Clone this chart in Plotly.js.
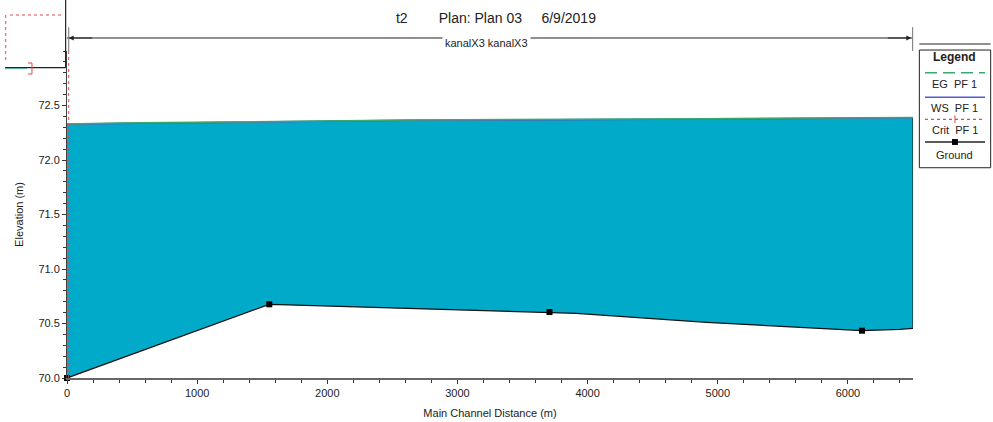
<!DOCTYPE html>
<html>
<head>
<meta charset="utf-8">
<script src="https://cdn.plot.ly/plotly-3.0.1.min.js"></script>
<style>html,body{margin:0;padding:0;background:#fff;}#chart{width:993px;height:422px;}</style>
</head>
<body>
<div id="chart"></div>
<script>
// ---- data ----
const groundX = [0, 1554, 1700, 3326, 3707, 3914, 4913, 5630, 5884, 6108, 6398, 6500];
const groundY = [70.0, 70.676, 70.670, 70.617, 70.605, 70.593, 70.511, 70.465, 70.447, 70.434, 70.447, 70.456];
const sectionX = [0, 1554, 3707, 6108];
const sectionY = [70.0, 70.676, 70.605, 70.434];
const wsX = [0, 389, 1167, 1918, 2634, 4908, 6500];
const wsY = [72.327, 72.336, 72.345, 72.358, 72.364, 72.376, 72.388];
const egY = [72.330, 72.339, 72.348, 72.361, 72.367, 72.379, 72.391];
const yTickVals = [70.0, 70.5, 71.0, 71.5, 72.0, 72.5];
const legendLabels = ['EG  PF 1', 'WS  PF 1', 'Crit  PF 1', 'Ground'];
const titleText = 't2\u00a0\u00a0\u00a0\u00a0\u00a0\u00a0\u00a0\u00a0Plan: Plan 03\u00a0\u00a0\u00a0\u00a0\u00a06/9/2019';
const reachLabel = 'kanalX3 kanalX3';

const FONT = 'Liberation Sans, Arial, sans-serif';
const WATER = '#00AAC8';
const EGC = '#3AAA6A';
const WSC = '#4F5BD0';
const CRITC = '#E8474A';

// water polygon: ground forward, WS backward
const polyX = groundX.concat(wsX.slice().reverse());
const polyY = groundY.concat(wsY.slice().reverse());
const lastG = groundX.length - 1, lastW = wsX.length - 1;

const traces = [
  {x: polyX, y: polyY, mode: 'lines', fill: 'toself', fillcolor: WATER, line: {width: 0}, hoverinfo: 'skip', showlegend: false},
  {x: [groundX[lastG], wsX[lastW]], y: [groundY[lastG], wsY[lastW]], mode: 'lines', line: {color: '#222', width: 1.2}, showlegend: false},
  {x: wsX, y: wsY, mode: 'lines', line: {color: WSC, width: 1.5}, name: 'WS PF 1', showlegend: false},
  {x: wsX, y: egY, mode: 'lines', line: {color: EGC, width: 1.5}, name: 'EG PF 1', showlegend: false},
  {x: groundX, y: groundY, mode: 'lines', line: {color: '#111', width: 1.3}, name: 'Ground', showlegend: false},
  {x: sectionX, y: sectionY, mode: 'markers', marker: {symbol: 'square', size: 6, color: '#000'}, showlegend: false, cliponaxis: false}
];

// legend geometry (paper coords)
const L = {x0: 1.0075, x1: 1.0918, y0: 0.643, y1: 1.003, div: 1.0214, lx0: 1.0142, lx1: 1.0851, cx: 1.0496};
const rowLineY = [0.9336, 0.8584, 0.7911, 0.7217];
const rowTextY = [0.8982, 0.8257, 0.7584, 0.682];
const rowStyle = [
  {color: EGC, dash: '12px,6px', width: 1.5},
  {color: WSC, dash: 'solid', width: 1.5},
  {color: CRITC, dash: '3px,3px', width: 1.2},
  {color: '#222', dash: 'solid', width: 1.3}
];

const shapes = [
  // left axis crit dashed overlay
  {type: 'line', xref: 'paper', yref: 'paper', x0: 0.002, x1: 0.002, y0: 0, y1: 1, line: {color: CRITC, width: 1, dash: '3px,3px'}},
  // reach arrow line and end ticks
  {type: 'line', xref: 'paper', yref: 'paper', x0: 0, x1: 1, y0: 1.0398, y1: 1.0398, line: {color: '#222', width: 1}},
  {type: 'line', xref: 'paper', yref: 'paper', x0: 0.002, x1: 0.002, y0: 1.073, y1: 1.0, line: {color: '#888', width: 1.2}},
  {type: 'line', xref: 'paper', yref: 'paper', x0: 0.9995, x1: 0.9995, y0: 1.073, y1: 1.0, line: {color: '#888', width: 1.2}},
  // top-left inset fragment
  {type: 'line', xref: 'paper', yref: 'paper', x0: -0.0016, x1: -0.0016, y0: 1.16, y1: 0.949, line: {color: '#222', width: 1.2}},
  {type: 'line', xref: 'paper', yref: 'paper', x0: -0.0733, x1: -0.0016, y0: 0.949, y1: 0.949, line: {color: '#222', width: 1.2}},
  {type: 'line', xref: 'paper', yref: 'paper', x0: -0.0733, x1: -0.0473, y0: 0.946, y1: 0.946, line: {color: '#5aa8a0', width: 1}},
  {type: 'line', xref: 'paper', yref: 'paper', x0: -0.0674, x1: -0.0059, y0: 1.110, y1: 1.110, line: {color: CRITC, width: 1, dash: '3px,3px'}},
  {type: 'line', xref: 'paper', yref: 'paper', x0: -0.0724, x1: -0.0724, y0: 1.110, y1: 0.9633, line: {color: CRITC, width: 1, dash: '3px,3px'}},
  {type: 'path', xref: 'paper', yref: 'paper', path: 'M -0.0461 0.9633 L -0.0414 0.9633 L -0.0414 0.9297 L -0.0461 0.9297', line: {color: CRITC, width: 1}},
  // legend box
  {type: 'rect', xref: 'paper', yref: 'paper', x0: L.x0, x1: L.x1, y0: L.y0, y1: L.y1, line: {color: '#222', width: 1}, fillcolor: 'rgba(0,0,0,0)'},
  {type: 'line', xref: 'paper', yref: 'paper', x0: L.x0, x1: L.x1, y0: L.div, y1: L.div, line: {color: '#222', width: 1}}
];
rowLineY.forEach((y, i) => {
  shapes.push({type: 'line', xref: 'paper', yref: 'paper', x0: L.lx0, x1: L.lx1, y0: y, y1: y,
    line: {color: rowStyle[i].color, width: rowStyle[i].width, dash: rowStyle[i].dash}});
});
// crit "+" marker and ground square in legend
shapes.push({type: 'line', xref: 'paper', yref: 'paper', x0: L.cx, x1: L.cx, y0: rowLineY[2] + 0.012, y1: rowLineY[2] - 0.012, line: {color: CRITC, width: 1}});
shapes.push({type: 'rect', xref: 'paper', yref: 'paper', x0: L.cx - 0.0035, x1: L.cx + 0.0035, y0: rowLineY[3] - 0.009, y1: rowLineY[3] + 0.009, line: {color: '#000', width: 0}, fillcolor: '#000'});

const annotations = [
  {xref: 'paper', yref: 'paper', x: 0.4955, y: 1.0245, text: reachLabel, showarrow: false, bgcolor: '#fff',
   font: {family: FONT, size: 11, color: '#222'}, xanchor: 'center', yanchor: 'middle', borderpad: 2},
  {xref: 'paper', yref: 'paper', x: 0.002, y: 1.0398, ax: 25, ay: 0, text: '', showarrow: true, arrowhead: 2, arrowsize: 1, arrowwidth: 1, arrowcolor: '#222'},
  {xref: 'paper', yref: 'paper', x: 0.998, y: 1.0398, ax: -25, ay: 0, text: '', showarrow: true, arrowhead: 2, arrowsize: 1, arrowwidth: 1, arrowcolor: '#222'},
  {xref: 'paper', yref: 'paper', x: L.cx, y: 0.9817, text: '<b>Legend</b>', showarrow: false,
   font: {family: FONT, size: 12, color: '#222'}, xanchor: 'center', yanchor: 'middle'}
];
legendLabels.forEach((t, i) => {
  annotations.push({xref: 'paper', yref: 'paper', x: L.cx, y: rowTextY[i], text: t.replace(/ /g, '\u00a0'), showarrow: false,
    font: {family: FONT, size: 11, color: '#222'}, xanchor: 'center', yanchor: 'middle'});
});

const layout = {
  width: 993, height: 422,
  margin: {l: 67, r: 80, t: 51, b: 44},
  paper_bgcolor: '#fff', plot_bgcolor: '#fff',
  showlegend: false,
  font: {family: FONT, size: 11, color: '#222'},
  title: {text: titleText, x: 0.507, xref: 'paper', xanchor: 'center', y: 0.957, yref: 'container', yanchor: 'middle',
          font: {family: FONT, size: 14, color: '#222'}},
  xaxis: {
    range: [0, 6500], showgrid: false, zeroline: false,
    showline: true, linecolor: '#666', linewidth: 1.5,
    ticks: 'outside', ticklen: 4, tickcolor: '#333', dtick: 1000, tick0: 0,
    minor: {dtick: 200, ticks: 'outside', ticklen: 3, tickcolor: '#333', showgrid: false},
    tickfont: {family: FONT, size: 11, color: '#222'},
    title: {text: 'Main Channel Distance (m)', font: {family: FONT, size: 11, color: '#222'}, standoff: 11}
  },
  yaxis: {
    range: [70, 73.0], showgrid: false, zeroline: false,
    showline: true, linecolor: '#444', linewidth: 1,
    ticks: 'outside', ticklen: 4, tickcolor: '#333', tickmode: 'array', tickvals: yTickVals, tickformat: '.1f',
    minor: {dtick: 0.1, tick0: 70, ticks: 'outside', ticklen: 3, tickcolor: '#333', showgrid: false},
    tickfont: {family: FONT, size: 11, color: '#222'},
    title: {text: 'Elevation (m)', font: {family: FONT, size: 11, color: '#222'}, standoff: 12}
  },
  shapes: shapes,
  annotations: annotations
};

Plotly.newPlot('chart', traces, layout, {displayModeBar: false, staticPlot: true});
</script>
</body>
</html>
